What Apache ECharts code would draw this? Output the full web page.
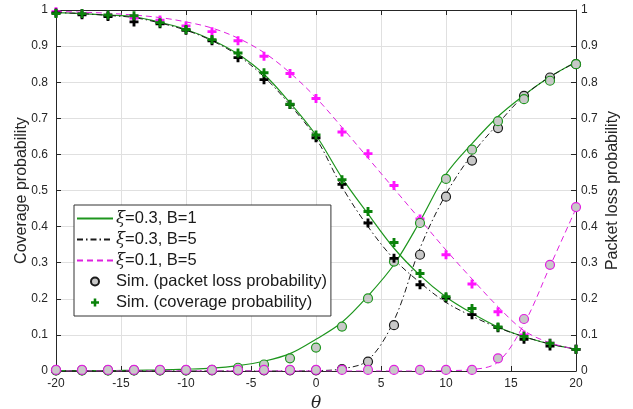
<!DOCTYPE html>
<html>
<head>
<meta charset="utf-8">
<script src="https://cdn.jsdelivr.net/npm/echarts@6/dist/echarts.min.js"></script>
<style>
html,body{margin:0;padding:0;background:#fff;}
#chart{width:633px;height:409px;}
</style>
</head>
<body>
<div id="chart"></div>
<script>
// ---- data ----
var theta = [-20,-18,-16,-14,-12,-10,-8,-6,-4,-2,0,2,4,6,8,10,12,14,16,18,20];

// theory curves: coverage probability
var covXi03B1 = [0.993,0.990,0.986,0.981,0.966,0.946,0.917,0.878,0.822,0.743,0.653,0.535,0.435,0.340,0.265,0.205,0.160,0.122,0.095,0.075,0.060];
var covXi03B5 = [0.993,0.990,0.985,0.979,0.964,0.944,0.915,0.874,0.815,0.737,0.645,0.510,0.400,0.310,0.245,0.190,0.152,0.120,0.095,0.075,0.060];
var covXi01B5 = [0.996,0.994,0.991,0.986,0.979,0.967,0.950,0.922,0.882,0.826,0.757,0.675,0.590,0.505,0.420,0.335,0.255,0.178,0.112,0.078,0.060];

// theory curves: packet loss probability
var lossXi03B1 = [0.001,0.001,0.001,0.002,0.003,0.005,0.008,0.015,0.027,0.048,0.088,0.135,0.208,0.295,0.415,0.545,0.630,0.705,0.764,0.815,0.856];
var lossXi03B5 = [0,0,0,0,0,0,0,0,0,0,0.001,0.006,0.030,0.140,0.340,0.490,0.600,0.685,0.762,0.815,0.855];
var lossXi01B5 = [0,0,0,0,0,0,0,0,0,0,0,0,0,0,0,0.001,0.004,0.025,0.130,0.290,0.450];

// simulations: coverage probability
var simCovXi03B1 = [0.990,0.990,0.986,0.984,0.965,0.946,0.918,0.881,0.826,0.739,0.654,0.530,0.442,0.356,0.270,0.206,0.173,0.122,0.096,0.077,0.060];
var simCovXi03B5 = [0.992,0.987,0.982,0.967,0.962,0.944,0.915,0.868,0.807,0.738,0.646,0.517,0.410,0.312,0.239,0.202,0.156,0.120,0.088,0.069,0.060];
var simCovXi01B5 = [0.995,0.990,0.985,0.978,0.972,0.956,0.940,0.915,0.872,0.824,0.755,0.662,0.602,0.514,0.421,0.322,0.241,0.164,0.100,0.077,0.060];

// simulations: packet loss probability
var simLossXi03B1 = [0.002,0.002,0.002,0.002,0.002,0.002,0.003,0.009,0.018,0.035,0.065,0.123,0.201,0.303,0.410,0.532,0.613,0.692,0.753,0.804,0.850];
var simLossXi03B5 = [0.002,0.002,0.002,0.002,0.002,0.002,0.002,0.002,0.002,0.002,0.002,0.005,0.026,0.127,0.322,0.483,0.583,0.673,0.762,0.813,0.850];
var simLossXi01B5 = [0.003,0.003,0.003,0.003,0.003,0.003,0.003,0.003,0.003,0.003,0.003,0.003,0.003,0.003,0.003,0.003,0.003,0.035,0.144,0.294,0.454];

var nameA = '\u03be=0.3, B=1';
var nameB = '\u03be=0.3, B=5';
var nameC = '\u03be=0.1, B=5';
var nameLoss = 'Sim. (packet loss probability)';
var nameCov = 'Sim. (coverage probability)';

function pairs(xs, ys){ return xs.map(function(x,i){ return [x, ys[i]]; }); }

// ---- styles ----
var GREEN_LINE = '#1e961e';
var GREEN_MARK = '#0a820a';
var MAGENTA = '#e020e0';
var MAGENTA_MARK = '#ff14ff';
var DARK = '#1a1a1a';
var CIRCLE_FILL = '#c8c8c8';
var PLUS = 'path://M3.4,0H6.6V3.4H10V6.6H6.6V10H3.4V6.6H0V3.4H3.4Z';
var DASHDOT = [6,3,1.5,3];
var DASH = [6,4];
var FONT = 'Liberation Sans, Arial, sans-serif';

function lineSeries(name, data, color, type, width){
  return {
    name: name, type: 'line', data: pairs(theta, data),
    showSymbol: false, symbol: 'none', smooth: 0.35,
    lineStyle: {color: color, width: width, type: type},
    itemStyle: {color: color},
    z: 2, silent: true, animation: false
  };
}
function circleSeries(data, edge, z){
  return {
    name: nameLoss, type: 'scatter', data: pairs(theta, data),
    symbol: 'circle', symbolSize: 9,
    itemStyle: {color: CIRCLE_FILL, borderColor: edge, borderWidth: 1.2, opacity: 1},
    z: z, silent: true, animation: false
  };
}
function plusSeries(data, color, z){
  return {
    name: nameCov, type: 'scatter', data: pairs(theta, data),
    symbol: PLUS, symbolSize: 9,
    itemStyle: {color: color, opacity: 1},
    z: z, silent: true, animation: false
  };
}

var chart = echarts.init(document.getElementById('chart'), null, {renderer: 'canvas'});

var axisLabelStyle = {color: '#262626', fontSize: 12, fontFamily: FONT};
var hiddenSymbol = {color: 'rgba(0,0,0,0)', borderColor: 'rgba(0,0,0,0)', borderWidth: 0, opacity: 0};

chart.setOption({
  animation: false,
  backgroundColor: '#fff',
  grid: {left: 56, right: 57, top: 10, bottom: 38, containLabel: false, outerBoundsMode: 'none'},
  legend: {
    orient: 'vertical', left: 74, top: 205,
    data: [
      {name: nameA, itemStyle: hiddenSymbol},
      {name: nameB, itemStyle: hiddenSymbol},
      {name: nameC, itemStyle: hiddenSymbol},
      nameLoss, nameCov
    ],
    itemWidth: 36, itemHeight: 8, itemGap: 4,
    padding: [5, 4, 5, 2],
    backgroundColor: '#fff', borderColor: '#333', borderWidth: 1,
    selectedMode: false,
    textStyle: {
      fontFamily: FONT, fontSize: 16.5, color: '#1a1a1a', lineHeight: 17, padding: [0,0,0,-2],
      rich: {
        xi: {fontFamily: 'DejaVu Serif', fontStyle: 'italic', fontSize: 16.5, lineHeight: 17, color: '#1a1a1a'},
        t: {fontFamily: FONT, fontSize: 16.5, lineHeight: 17, color: '#1a1a1a'}
      }
    },
    formatter: function(n){
      if (n.charAt(0) === '\u03be') return '{xi|\u03be}{t|' + n.slice(1) + '}';
      return '{t|' + n + '}';
    }
  },
  xAxis: [{
    type: 'value', min: -20, max: 20, interval: 5, position: 'bottom',
    name: '\u03b8', nameLocation: 'middle', nameGap: 22,
    nameTextStyle: {fontFamily: 'DejaVu Serif', fontStyle: 'italic', fontSize: 17, color: '#262626'},
    axisLine: {show: true, onZero: false, lineStyle: {color: '#262626', width: 1}},
    axisTick: {show: true, inside: true, length: 5, lineStyle: {color: '#262626'}},
    axisLabel: Object.assign({margin: 7}, axisLabelStyle),
    splitLine: {show: true, lineStyle: {color: '#e0e0e0', width: 1}}
  },{
    type: 'value', min: -20, max: 20, interval: 5, position: 'top',
    axisLine: {show: true, onZero: false, lineStyle: {color: '#262626', width: 1}},
    axisTick: {show: true, inside: true, length: 5, lineStyle: {color: '#262626'}},
    axisLabel: {show: false},
    splitLine: {show: false}
  }],
  yAxis: [{
    type: 'value', min: 0, max: 1, interval: 0.1, position: 'left',
    name: 'Coverage probability', nameLocation: 'middle', nameGap: 26, nameRotate: 90,
    nameMoveOverlap: false,
    nameTextStyle: {fontFamily: FONT, fontSize: 16, color: '#262626'},
    axisLine: {show: true, onZero: false, lineStyle: {color: '#262626', width: 1}},
    axisTick: {show: true, inside: true, length: 5, lineStyle: {color: '#262626'}},
    axisLabel: Object.assign({margin: 8, formatter: function(v){ return String(Math.round(v*10)/10); }}, axisLabelStyle),
    splitLine: {show: true, lineStyle: {color: '#e0e0e0', width: 1}}
  },{
    type: 'value', min: 0, max: 1, interval: 0.1, position: 'right',
    name: 'Packet loss probability', nameLocation: 'middle', nameGap: 29, nameRotate: 90,
    nameMoveOverlap: false,
    nameTextStyle: {fontFamily: FONT, fontSize: 16, color: '#262626'},
    axisLine: {show: true, onZero: false, lineStyle: {color: '#262626', width: 1}},
    axisTick: {show: true, inside: true, length: 5, lineStyle: {color: '#262626'}},
    axisLabel: Object.assign({margin: 5, formatter: function(v){ return String(Math.round(v*10)/10); }}, axisLabelStyle),
    splitLine: {show: false}
  }],
  series: [
    lineSeries(nameA, covXi03B1, GREEN_LINE, 'solid', 1.2),
    lineSeries(nameA, lossXi03B1, GREEN_LINE, 'solid', 1.2),
    lineSeries(nameB, covXi03B5, DARK, DASHDOT, 1),
    lineSeries(nameB, lossXi03B5, DARK, DASHDOT, 1),
    lineSeries(nameC, covXi01B5, MAGENTA, DASH, 1),
    lineSeries(nameC, lossXi01B5, MAGENTA, DASH, 1),
    circleSeries(simLossXi03B5, DARK, 3),
    circleSeries(simLossXi03B1, GREEN_LINE, 4),
    circleSeries(simLossXi01B5, MAGENTA, 5),
    plusSeries(simCovXi03B1, GREEN_MARK, 6),
    plusSeries(simCovXi03B5, '#000000', 4),
    plusSeries(simCovXi01B5, MAGENTA_MARK, 3)
  ]
});
</script>
</body>
</html>
